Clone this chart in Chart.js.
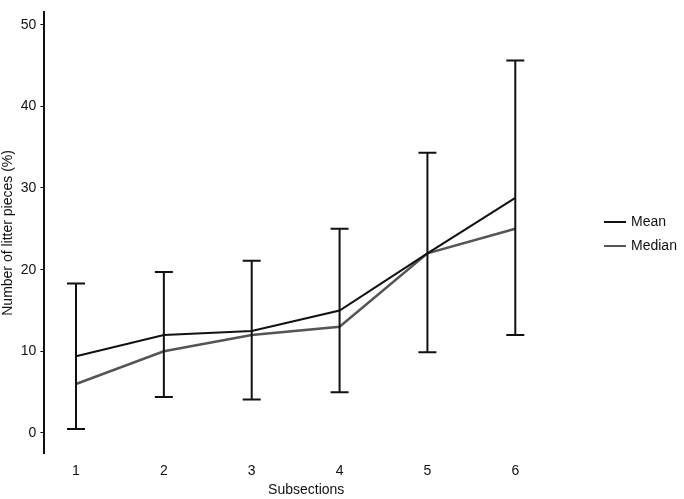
<!DOCTYPE html><html><head><script src="https://cdn.jsdelivr.net/npm/chart.js"></script>
<style>body{margin:0;background:#fff}#w{width:684px;height:499px}</style></head><body><div id="w"><canvas id="c"></canvas></div>
<script>
const subsections=[1,2,3,4,5,6];
const meanVals=[9.4,12.0,12.5,15.0,22.0,28.8];
const medianVals=[6.0,10.0,12.0,13.0,22.0,25.0];
const errHigh=[18.3,19.7,21.1,25.0,34.3,45.6];
const errLow=[0.5,4.4,4.1,5.0,9.9,12.0];
const yTicks=[0,10,20,30,40,50];
const errPlugin={id:'err',afterDatasetsDraw(ch){const c=ch.ctx,x=ch.scales.x,y=ch.scales.y;c.save();c.strokeStyle='#111';c.lineWidth=2;
subsections.forEach((s,i)=>{const px=x.getPixelForValue(s),h=y.getPixelForValue(errHigh[i]),l=y.getPixelForValue(errLow[i]);c.beginPath();c.moveTo(px,h);c.lineTo(px,l);c.moveTo(px-9,h);c.lineTo(px+9,h);c.moveTo(px-9,l);c.lineTo(px+9,l);c.stroke();});
const items=[['Mean','#111'],['Median','#555']];c.font='14px Arial, Liberation Sans';c.textBaseline='middle';
items.forEach((it,k)=>{const yy=222+k*24;c.strokeStyle=it[1];c.beginPath();c.moveTo(604,yy);c.lineTo(626,yy);c.stroke();c.fillStyle='#111';c.fillText(it[0],631,yy);});
c.restore();}};
new Chart(document.getElementById('c'),{type:'line',data:{datasets:[
{label:'Mean',data:subsections.map((s,i)=>({x:s,y:meanVals[i]})),borderColor:'#111',borderWidth:2,pointRadius:0,tension:0},
{label:'Median',data:subsections.map((s,i)=>({x:s,y:medianVals[i]})),borderColor:'#555',borderWidth:2.5,pointRadius:0,tension:0}]},
options:{responsive:true,maintainAspectRatio:false,animation:false,layout:{padding:{right:116,top:6}},
plugins:{legend:{display:false},tooltip:{enabled:false}},
scales:{x:{type:'linear',min:0.64,max:6.6,afterBuildTicks(a){a.ticks=subsections.map(v=>({value:v}));},grid:{display:false,tickLength:6},border:{display:false},ticks:{color:'#111',font:{size:14,family:'Arial, Liberation Sans'}},title:{display:true,text:'Subsections',color:'#111',font:{size:14,family:'Arial, Liberation Sans'},padding:0}},
y:{min:-2.5,max:51.5,afterBuildTicks(a){a.ticks=yTicks.map(v=>({value:v}));},grid:{display:true,drawOnChartArea:false,drawTicks:true,tickLength:4,color:'#111'},border:{display:true,color:'#111',width:2},ticks:{color:'#111',padding:4,font:{size:14,family:'Arial, Liberation Sans'}},title:{display:true,text:'Number of litter pieces (%)',color:'#111',font:{size:14,family:'Arial, Liberation Sans'},padding:0}}}},
plugins:[errPlugin]});
</script></body></html>
